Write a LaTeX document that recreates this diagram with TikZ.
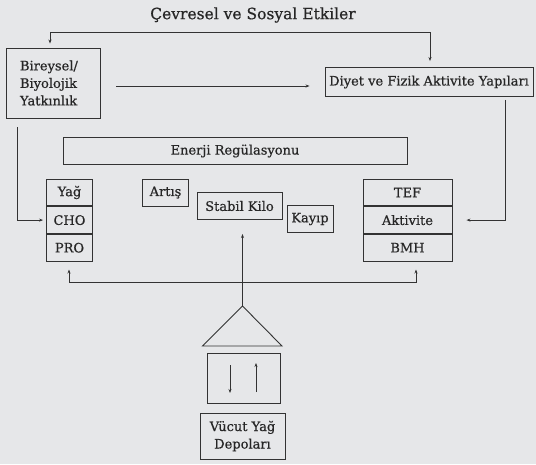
\documentclass[tikz,border=0pt]{standalone}
\usepackage{fontspec}
\setmainfont{DejaVu Serif}[FakeBold=0.6]
\usetikzlibrary{positioning, arrows.meta}
\definecolor{bggray}{HTML}{E6E7E9}
\definecolor{ink}{HTML}{333333}
\definecolor{txt}{HTML}{262626}

\begin{document}
\begin{tikzpicture}[x=1pt, y=-1pt,
	box/.style={draw=ink, line width=0.9pt, text=txt, inner sep=0pt, font=\fontsize{13}{17.5}\selectfont},
	lstack/.style={box, minimum width=46pt, minimum height=26.7pt},
	rstack/.style={box, minimum width=89pt, minimum height=26.7pt},
	link/.style={draw=ink, line width=0.75pt, -{Stealth[length=4pt, width=3pt]}},
	twolink/.style={link, {Stealth[length=4pt, width=3pt]}-{Stealth[length=4pt, width=3pt]}}]
	\fill[bggray] (0,0) rectangle (536,464);
	\node (title) at (253,15) [text=txt, font=\fontsize{15.5}{18}\selectfont] {Çevresel ve Sosyal Etkiler};
	\node (bir) at (53,83) [box, minimum width=94pt, minimum height=70pt, text width=66pt, align=left] {Bireysel/\\Biyolojik\\Yatkınlık};
	\node (diyet) at (429,82) [box, minimum width=208pt, minimum height=29pt] {Diyet ve Fizik Aktivite Yapıları};
	\node (enerji) at (235,151) [box, minimum width=344pt, minimum height=27pt] {Enerji Regülasyonu};
	\node (yag) at (69.5,192.5) [lstack] {Yağ};
	\node (cho) [lstack, below=0pt of yag] {CHO};
	\node (pro) [lstack, below=0pt of cho] {PRO};
	\node (tef) at (407.5,192.5) [rstack] {TEF};
	\node (akt) [rstack, below=0pt of tef] {Aktivite};
	\node (bmh) [rstack, below=0pt of akt] {BMH};
	\node (artis) at (165.5,192.5) [box, minimum width=46pt, minimum height=27pt] {Artış};
	\node (stabil) at (239.5,206) [box, minimum width=85pt, minimum height=27pt] {Stabil Kilo};
	\node (kayip) at (310,219) [box, minimum width=46pt, minimum height=27pt] {Kayıp};
	\node (store) at (243.5,378) [box, minimum width=73pt, minimum height=50pt] {};
	\node (vucut) at (242.5,436) [box, minimum width=85pt, minimum height=46pt, align=center] {Vücut Yağ\\Depoları};
	\coordinate (apex) at (242.5,306);
	\coordinate (tl) at (202.5,346);
	\coordinate (tr) at (282,346);
	\draw[draw=ink, line width=0.9pt] (apex) -- (tl) -- (tr) -- cycle;
	\coordinate (topl) at (50,32);
	\coordinate (topr) at (430,32);
	\draw[twolink, shorten <=4pt, shorten >=6pt] (bir.north -| topl) -- (topl) -- (topr) -- (diyet.north -| topr);
	\draw[link, shorten <=16pt, shorten >=15pt] ([yshift=-3pt]bir.east) -- ([yshift=-3pt]bir.east -| diyet.west);
	\coordinate (lx) at (17,0);
	\draw[link, shorten <=9pt, shorten >=3pt] (bir.south -| lx) |- (cho.west);
	\coordinate (rx) at (505,0);
	\draw[link, shorten <=3pt, shorten >=14pt] (diyet.south -| rx) |- (akt.east);
	\coordinate (bl) at (69,282);
	\coordinate (br) at (416,282);
	\draw[twolink, shorten <=8pt, shorten >=8pt] (pro.south -| bl) -- (bl) -- (br) -- (bmh.south -| br);
	\coordinate (stem) at (242.5,234);
	\draw[link] (apex) -- (stem);
	\coordinate (dtop) at (230,365);
	\coordinate (dbot) at (230,393);
	\coordinate (utop) at (256,363);
	\coordinate (ubot) at (256,392);
	\draw[link] (dtop) -- (dbot);
	\draw[link] (ubot) -- (utop);
\end{tikzpicture}
\end{document}
